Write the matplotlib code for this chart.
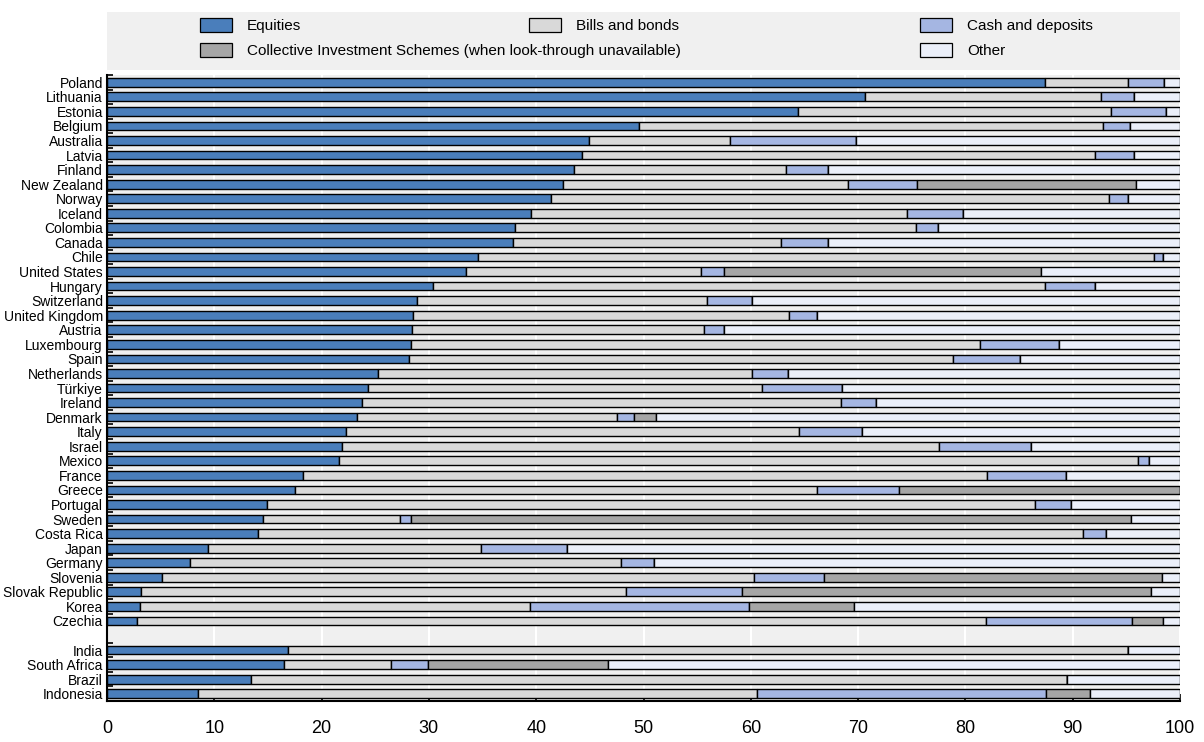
import matplotlib
matplotlib.use("Agg")
import matplotlib.pyplot as plt
from matplotlib.patches import Rectangle
import numpy as np

plt.rcParams['font.family'] = ['Liberation Sans Narrow', 'Liberation Sans', 'DejaVu Sans']

# OECD countries (top block)
oecd = ["Poland", "Lithuania", "Estonia", "Belgium", "Australia", "Latvia", "Finland",
        "New Zealand", "Norway", "Iceland", "Colombia", "Canada", "Chile", "United States",
        "Hungary", "Switzerland", "United Kingdom", "Austria", "Luxembourg", "Spain",
        "Netherlands", "Türkiye", "Ireland", "Denmark", "Italy", "Israel", "Mexico", "France",
        "Greece", "Portugal", "Sweden", "Costa Rica", "Japan", "Germany", "Slovenia",
        "Slovak Republic", "Korea", "Czechia"]
oecd_equities = [87.4, 70.6, 64.4, 49.6, 44.9, 44.3, 43.5, 42.5, 41.4, 39.5, 38.0, 37.8, 34.6,
                 33.5, 30.4, 28.9, 28.5, 28.4, 28.3, 28.1, 25.3, 24.3, 23.8, 23.3, 22.3, 21.9,
                 21.6, 18.3, 17.5, 14.9, 14.5, 14.1, 9.4, 7.7, 5.1, 3.2, 3.1, 2.8]
oecd_bills = [7.8, 22.0, 29.2, 43.2, 13.2, 47.8, 19.8, 26.6, 52.0, 35.1, 37.4, 25.0, 63.0,
              21.9, 57.0, 27.0, 35.1, 27.2, 53.1, 50.7, 34.8, 36.7, 44.6, 24.2, 42.2, 55.6,
              74.5, 63.7, 48.7, 71.6, 12.8, 76.9, 25.5, 40.2, 55.2, 45.2, 36.3, 79.1]
oecd_cash = [3.3, 3.1, 5.1, 2.5, 11.7, 3.6, 3.9, 6.4, 1.8, 5.2, 2.0, 4.4, 0.8, 2.1, 4.7, 4.2,
             2.6, 1.9, 7.3, 6.3, 3.4, 7.5, 3.3, 1.6, 5.9, 8.6, 1.0, 7.4, 7.6, 3.3, 1.0, 2.1,
             8.0, 3.1, 6.5, 10.8, 20.4, 13.6]
oecd_cis = [0, 0, 0, 0, 0, 0, 0, 20.4, 0, 0, 0, 0, 0, 29.5, 0, 0, 0, 0, 0, 0, 0, 0, 0, 2.1,
            0, 0, 0, 0, 26.2, 0, 67.1, 0, 0, 0, 31.5, 38.1, 9.8, 2.9]
oecd_other = [1.5, 4.3, 1.3, 4.7, 30.2, 4.3, 32.8, 4.1, 4.8, 20.2, 22.6, 32.8, 1.6, 13.0, 7.9,
              39.9, 33.8, 42.5, 11.3, 14.9, 36.5, 31.5, 28.3, 48.8, 29.6, 13.9, 2.9, 10.6, 0,
              10.2, 4.6, 6.9, 57.1, 49.0, 1.7, 2.7, 30.4, 1.6]

# Non-OECD (bottom block)
partners = ["India", "South Africa", "Brazil", "Indonesia"]
partner_equities = [16.9, 16.5, 13.4, 8.5]
partner_bills = [78.3, 10.0, 76.1, 52.1]
partner_cash = [0, 3.4, 0, 26.9]
partner_cis = [0, 16.8, 0, 4.1]
partner_other = [4.8, 53.3, 10.5, 8.4]

series_names = ["Equities", "Bills and bonds", "Cash and deposits",
                "Collective Investment Schemes (when look-through unavailable)", "Other"]
colors = ["#4a7ebb", "#d9d9d9", "#a5b6e2", "#a6a6a6", "#ebeff9"]

labels = oecd + partners
pos = np.r_[np.arange(len(oecd)), np.arange(len(partners)) + len(oecd) + 1]
data = [oecd_equities + partner_equities, oecd_bills + partner_bills,
        oecd_cash + partner_cash, oecd_cis + partner_cis, oecd_other + partner_other]

fig = plt.figure(figsize=(12.04, 7.42), dpi=100)
ax = fig.add_axes([107 / 1204, 1 - 701 / 742, 1073 / 1204, 626 / 742])
ax.set_facecolor("#f0f0f0")

left = np.zeros(len(labels))
for vals, col in zip(data, colors):
    vals = np.array(vals)
    ax.barh(pos, vals, left=left, height=0.6, color=col, edgecolor="black",
            linewidth=1.0, zorder=3)
    left += vals

ax.set_xlim(0, 100)
ax.set_ylim(len(labels) + 0.5, -0.5)
ax.set_xticks(range(0, 101, 10))
ax.grid(axis="x", color="white", linewidth=1.5, zorder=0)
ax.set_axisbelow(True)

ax.set_yticks(pos)
ax.set_yticklabels(labels, fontsize=10)
ax.set_yticks(pos - 0.5, minor=True)
ax.tick_params(axis="y", which="major", length=0, pad=3)
ax.tick_params(axis="y", which="minor", direction="in", length=4, width=1.2, color="black")
ax.tick_params(axis="x", direction="in", length=5, width=1.2, labelsize=13, pad=14)

for side in ["top", "right"]:
    ax.spines[side].set_visible(False)
for side in ["left", "bottom"]:
    ax.spines[side].set_linewidth(1.5)
    ax.spines[side].set_zorder(4)

# legend drawn by hand in figure pixels
W, H = 1204, 742
fig.patches.append(Rectangle((107 / W, 1 - 70 / H), 1073 / W, 58 / H,
                             transform=fig.transFigure, facecolor="#f0f0f0",
                             edgecolor="none", zorder=0))
legend_slots = [(200, 25), (529, 25), (920, 25), (200, 50), (920, 50)]
for name, col, (lx, ly) in zip(series_names, colors, legend_slots):
    fig.patches.append(Rectangle((lx / W, 1 - (ly + 7) / H), 32 / W, 14 / H,
                                 transform=fig.transFigure, facecolor=col,
                                 edgecolor="black", linewidth=0.9, zorder=1))
    fig.text((lx + 47) / W, 1 - (ly + 1) / H, name, fontsize=11, va="center", ha="left")

fig.savefig("out.png", dpi=100)
